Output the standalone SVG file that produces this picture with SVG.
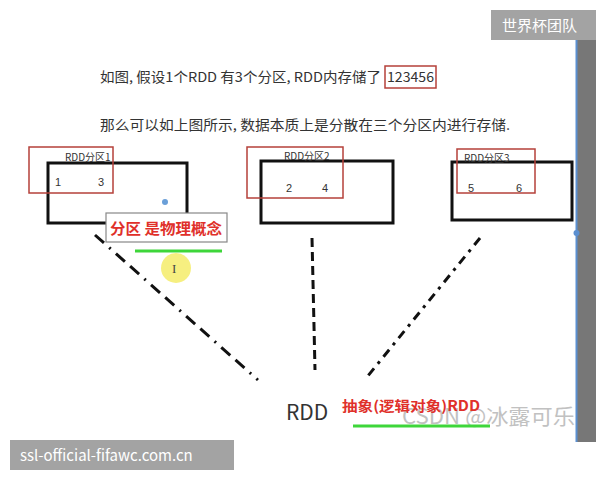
<svg xmlns="http://www.w3.org/2000/svg" width="600" height="480" viewBox="0 0 600 480">
<style>
.t{font-family:"Noto Sans CJK SC","Liberation Sans",sans-serif;fill:#333}
.blk{fill:none;stroke:#111;stroke-width:3}
.red{fill:none;stroke:#b5403a;stroke-width:1.5}
.lbl{font-family:"Noto Sans CJK SC","Liberation Sans",sans-serif;font-size:10px;fill:#333}
.num{font-family:"Liberation Sans",sans-serif;font-size:11px;fill:#333}
.note{font-family:"Noto Sans CJK SC",sans-serif;font-weight:bold;fill:#e0302a}
.conn{fill:none;stroke:#111;stroke-width:3}
.green{stroke:#3ed63a;stroke-width:3}
.badge{fill:#a3a3a3}
.wt{font-family:"Noto Sans CJK SC","Liberation Sans",sans-serif;fill:#fff}
</style>
<rect width="600" height="480" fill="#fff"/>
<g id="sidebar">
<rect x="577" y="40" width="19" height="402" fill="#777"/>
<line x1="576.5" y1="40" x2="576.5" y2="442" stroke="#5b8fd0" stroke-width="2"/>
<circle cx="576.5" cy="233" r="3" fill="#5b8fd0"/>
</g>
<g id="text1">
<text class="t" x="100" y="82" font-size="13.5" textLength="281" lengthAdjust="spacingAndGlyphs">如图, 假设1个RDD 有3个分区, RDD内存储了</text>
<rect x="385" y="66" width="51" height="22" class="red"/>
<text class="t" x="387" y="82" font-size="13.5" textLength="47" lengthAdjust="spacingAndGlyphs">123456</text>
<text class="t" x="100" y="130" font-size="13.5" textLength="410" lengthAdjust="spacingAndGlyphs">那么可以如上图所示, 数据本质上是分散在三个分区内进行存储.</text>
</g>
<g id="connectors">
<line class="conn" x1="95" y1="235" x2="258" y2="380" stroke-dasharray="12 7 2 7 12 7"/>
<line class="conn" x1="312" y1="238" x2="315" y2="370" stroke-dasharray="9 5"/>
<line class="conn" x1="480" y1="238" x2="367" y2="377" stroke-dasharray="9 6 3 6"/>
</g>
<g id="p1">
<rect class="blk" x="48" y="163" width="139" height="60"/>
<rect class="red" x="29" y="147" width="84" height="46"/>
<text class="lbl" x="65" y="161">RDD分区1</text>
<text class="num" x="55" y="186">1</text>
<text class="num" x="98" y="186">3</text>
<circle cx="165" cy="202" r="3" fill="#6a9fd8"/>
</g>
<g id="note1">
<rect x="106" y="213" width="121" height="29" fill="#fff" stroke="#888" stroke-width="1.2"/>
<text class="note" x="110" y="234" font-size="15" textLength="112" lengthAdjust="spacingAndGlyphs">分区 是物理概念</text>
<line class="green" x1="135" y1="251" x2="222" y2="251"/>
</g>
<g id="cursor">
<circle cx="176" cy="268" r="15" fill="#f5ec6a" opacity="0.85"/>
<text x="172" y="273" font-family="Liberation Serif,serif" font-size="13" fill="#444">I</text>
</g>
<g id="p2">
<rect class="blk" x="261" y="161" width="132" height="62"/>
<rect class="red" x="247" y="147" width="96" height="51"/>
<text class="lbl" x="284" y="160">RDD分区2</text>
<text class="num" x="286" y="192">2</text>
<text class="num" x="322" y="192">4</text>
</g>
<g id="p3">
<rect class="blk" x="452" y="162" width="120" height="58"/>
<rect class="red" x="457" y="149" width="78" height="44"/>
<text class="lbl" x="464" y="162">RDD分区3</text>
<text class="num" x="468" y="192">5</text>
<text class="num" x="516" y="192">6</text>
</g>
<g id="rdd">
<text class="t" x="286" y="420" font-size="21" font-family="Liberation Sans,sans-serif">RDD</text>
<text x="402" y="424" font-family="Noto Sans CJK SC,sans-serif" font-size="21" fill="#bbb" opacity="0.9" textLength="173" lengthAdjust="spacingAndGlyphs">CSDN @冰露可乐</text>
<text class="note" x="342" y="411" font-size="14" textLength="138" lengthAdjust="spacingAndGlyphs">抽象(逻辑对象)RDD</text>
<line class="green" x1="353" y1="426" x2="490" y2="426"/>
</g>
<g id="badges">
<rect class="badge" x="491" y="10" width="105" height="30"/>
<text class="wt" x="502" y="31" font-size="15">世界杯团队</text>
<rect class="badge" x="10" y="440" width="224" height="30"/>
<text class="wt" x="20" y="461" font-size="15" font-family="Liberation Sans,sans-serif">ssl-official-fifawc.com.cn</text>
</g>
</svg>
